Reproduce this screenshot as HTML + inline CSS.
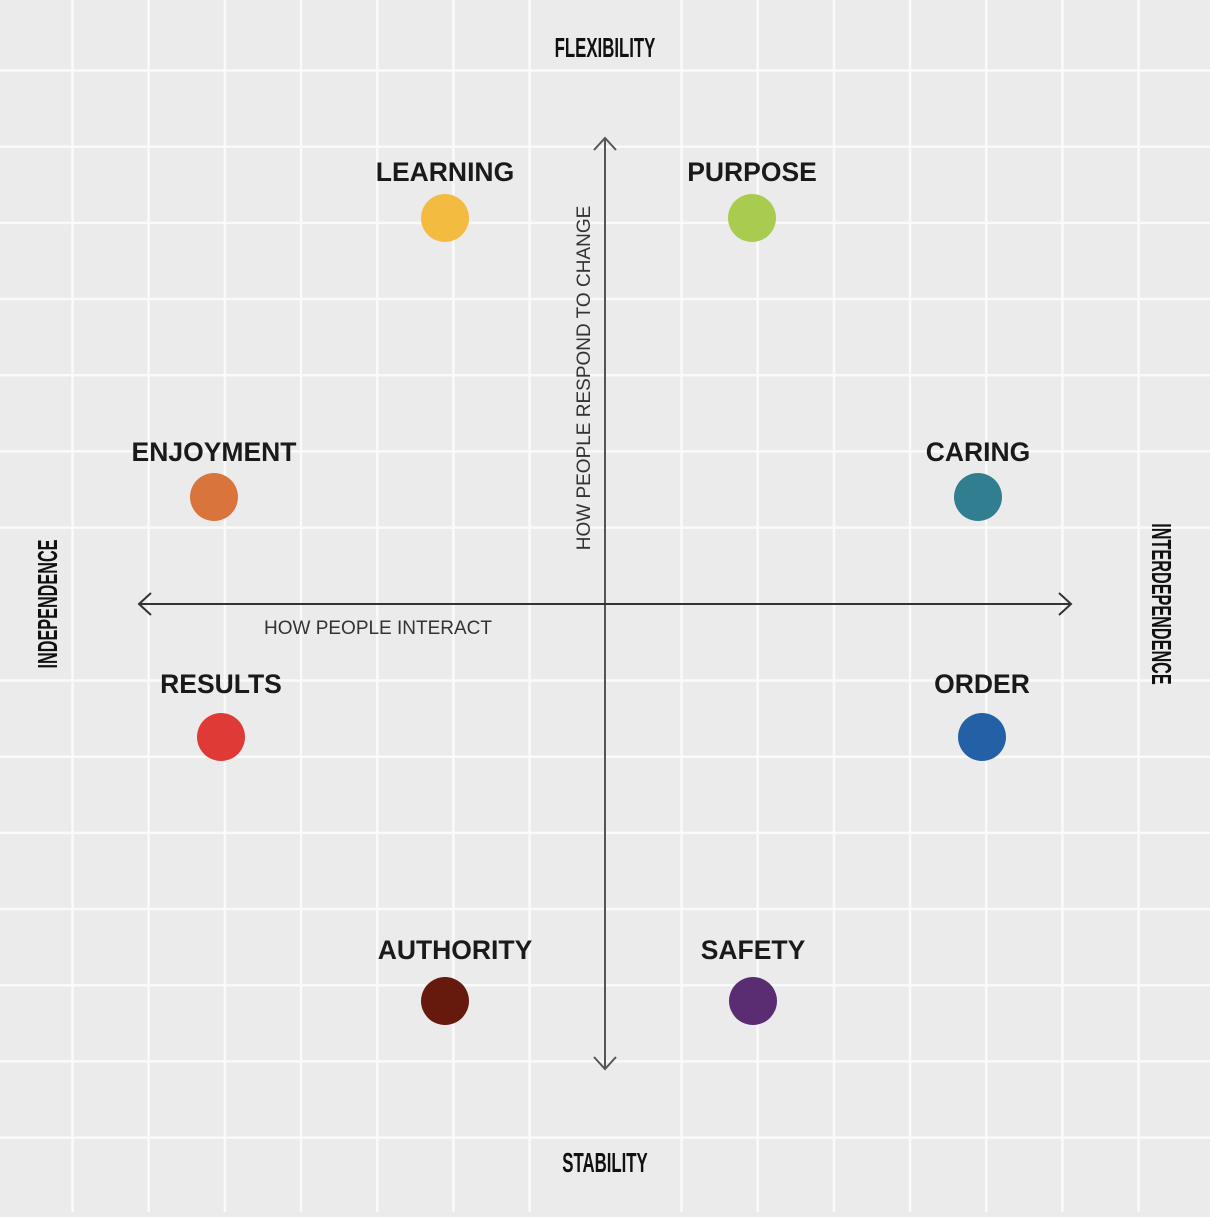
<!DOCTYPE html>
<html><head><style>body{margin:0;background:#ebebeb}</style></head><body>
<svg width="1210" height="1212" xmlns="http://www.w3.org/2000/svg" font-family="Liberation Sans, sans-serif">
<rect width="1210" height="1212" fill="#ebebeb"/>
<g stroke="#fafafa" stroke-width="2.5">
<line x1="72.5" y1="0" x2="72.5" y2="1212"/><line x1="148.7" y1="0" x2="148.7" y2="1212"/><line x1="224.9" y1="0" x2="224.9" y2="1212"/><line x1="301" y1="0" x2="301" y2="1212"/><line x1="377.2" y1="0" x2="377.2" y2="1212"/><line x1="453.4" y1="0" x2="453.4" y2="1212"/><line x1="529.6" y1="0" x2="529.6" y2="1212"/><line x1="681.5" y1="0" x2="681.5" y2="1212"/><line x1="757.7" y1="0" x2="757.7" y2="1212"/><line x1="833.9" y1="0" x2="833.9" y2="1212"/><line x1="910" y1="0" x2="910" y2="1212"/><line x1="986.2" y1="0" x2="986.2" y2="1212"/><line x1="1062.4" y1="0" x2="1062.4" y2="1212"/><line x1="1138.6" y1="0" x2="1138.6" y2="1212"/>
<line y1="70.5" x1="0" y2="70.5" x2="1210"/><line y1="146.7" x1="0" y2="146.7" x2="1210"/><line y1="222.9" x1="0" y2="222.9" x2="1210"/><line y1="299" x1="0" y2="299" x2="1210"/><line y1="375.2" x1="0" y2="375.2" x2="1210"/><line y1="451.4" x1="0" y2="451.4" x2="1210"/><line y1="527.6" x1="0" y2="527.6" x2="1210"/><line y1="680.5" x1="0" y2="680.5" x2="1210"/><line y1="756.7" x1="0" y2="756.7" x2="1210"/><line y1="832.9" x1="0" y2="832.9" x2="1210"/><line y1="909" x1="0" y2="909" x2="1210"/><line y1="985.2" x1="0" y2="985.2" x2="1210"/><line y1="1061.4" x1="0" y2="1061.4" x2="1210"/><line y1="1137.6" x1="0" y2="1137.6" x2="1210"/>
</g>
<g stroke="#555" stroke-width="2" fill="none">
<line x1="605" y1="138" x2="605" y2="1069"/>
<polyline points="594,150 605,138 616,150"/>
<polyline points="594,1057 605,1069 616,1057"/>
<line x1="139" y1="604" x2="1071" y2="604" stroke="#333"/>
<polyline points="151,593 139,604 151,615" stroke="#333"/>
<polyline points="1059,593 1071,604 1059,615" stroke="#333"/>
</g>
<g font-size="19" fill="#333">
<text x="378" y="634" text-anchor="middle">HOW PEOPLE INTERACT</text>
<text transform="translate(590,378) rotate(-90)" text-anchor="middle">HOW PEOPLE RESPOND TO CHANGE</text>
</g>
<g font-weight="bold" font-size="28" fill="#111" text-anchor="middle">
<text transform="translate(605,57) scale(0.6,1)">FLEXIBILITY</text>
<text transform="translate(605,1172) scale(0.6,1)">STABILITY</text>
<text transform="translate(57,604) rotate(-90) scale(0.58,1)">INDEPENDENCE</text>
<text transform="translate(1152,604) rotate(90) scale(0.58,1)">INTERDEPENDENCE</text>
</g>
<g font-size="26.5" fill="#1a1a1a" text-anchor="middle" font-weight="bold">
<text x="445" y="181">LEARNING</text>
<text x="752" y="181">PURPOSE</text>
<text x="214" y="461">ENJOYMENT</text>
<text x="978" y="461">CARING</text>
<text x="221" y="693">RESULTS</text>
<text x="982" y="693">ORDER</text>
<text x="455" y="959">AUTHORITY</text>
<text x="753" y="959">SAFETY</text>
</g>
<circle cx="445" cy="218" r="24" fill="#f4bb41"/>
<circle cx="752" cy="218" r="24" fill="#a9cb4f"/>
<circle cx="214" cy="497" r="24" fill="#d9743c"/>
<circle cx="978" cy="497" r="24" fill="#327e91"/>
<circle cx="221" cy="737" r="24" fill="#e03a36"/>
<circle cx="982" cy="737" r="24" fill="#2360a5"/>
<circle cx="445" cy="1001" r="24" fill="#651a0d"/>
<circle cx="753" cy="1001" r="24" fill="#5a2d73"/>
</svg>
</body></html>
